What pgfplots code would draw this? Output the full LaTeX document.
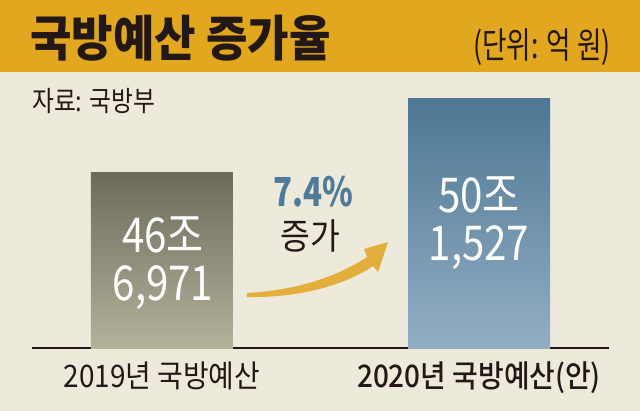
\documentclass[border=0pt]{standalone}
\usepackage{pgfplots}
\pgfplotsset{compat=1.18}
\usepackage{fontspec}
\setmainfont{Noto Sans CJK KR}
\newfontfamily\krmed{Noto Sans CJK KR Medium}
\definecolor{bannerc}{HTML}{E1A71F}
\definecolor{bgc}{HTML}{EDEADB}
\definecolor{inkc}{HTML}{231815}
\definecolor{oldtop}{HTML}{6C6A5B}
\definecolor{oldbot}{HTML}{B4B19B}
\definecolor{newtop}{HTML}{4D7793}
\definecolor{newbot}{HTML}{93AEC2}
\definecolor{pctc}{HTML}{4F7B98}
\definecolor{arrowc}{HTML}{E2AE3C}
\newcommand{\fs}[1]{\fontsize{#1bp}{#1bp}\selectfont}
\newcommand{\nar}[2]{\scalebox{#1}[1]{#2}}

\begin{document}
\begin{tikzpicture}
\fill[bgc] (0,0) rectangle (640bp,-411bp);
\fill[bannerc] (0,0) rectangle (640bp,-72bp);

\begin{axis}[
  at={(32bp,-348bp)}, anchor=south west,
  scale only axis, width=577bp, height=250bp,
  xmin=-0.41, xmax=1.41, ymin=394919, ymax=501527,
  axis x line*=bottom, axis y line=none,
  x axis line style={line width=1.6bp, draw=inkc, -},
  xtick={0,1},
  xticklabels={{\nar{0.9}{2019년 국방예산}}, {\krmed\nar{0.9}{2020년 국방예산(안)}}},
  major tick length=0pt,
  xticklabel style={font=\fs{31}, text=inkc, yshift=-10bp},
  clip=false,
]
\addplot[ybar, bar width=142bp, bar shift=0pt, draw=none,
  top color=oldtop, bottom color=oldbot] coordinates {(0,469971)};
\addplot[ybar, bar width=142bp, bar shift=0pt, draw=none,
  top color=newtop, bottom color=newbot] coordinates {(1,501527)};
\end{axis}

\begin{scope}[x=1bp, y=-1bp]
\node[anchor=west, text=inkc, inner sep=0pt] at (30,38)
  {\fs{49}\bfseries\nar{0.92}{국방예산 증가율}};
\node[anchor=east, text=inkc, inner sep=0pt] at (611,47)
  {\fs{36}\nar{0.74}{(단위: 억 원)}};
\node[anchor=west, text=inkc, inner sep=0pt] at (32,101)
  {\fs{28}\nar{0.85}{자료: 국방부}};
% values inside bars
\node[text=white, inner sep=0pt] at (163,235) {\fs{48}\nar{0.84}{46조}};
\node[text=white, inner sep=0pt] at (163,288) {\fs{48}\nar{0.84}{6,971}};
\node[text=white, inner sep=0pt] at (479,195) {\fs{48}\nar{0.84}{50조}};
\node[text=white, inner sep=0pt] at (479,248) {\fs{48}\nar{0.84}{1,527}};
% increase
\node[text=pctc, inner sep=0pt] at (313,192) {\fs{40}\bfseries\nar{0.78}{7.4\%}};
\node[text=inkc, inner sep=0pt] at (310,236) {\fs{36}\nar{0.9}{증가}};
\fill[arrowc] (247,293) .. controls (300,290) and (340,275) .. (367,257)
  -- (364,249) -- (388,242) -- (378,272) -- (373,266)
  .. controls (345,285) and (300,298) .. (247,297) -- cycle;
\end{scope}
\end{tikzpicture}
\end{document}
